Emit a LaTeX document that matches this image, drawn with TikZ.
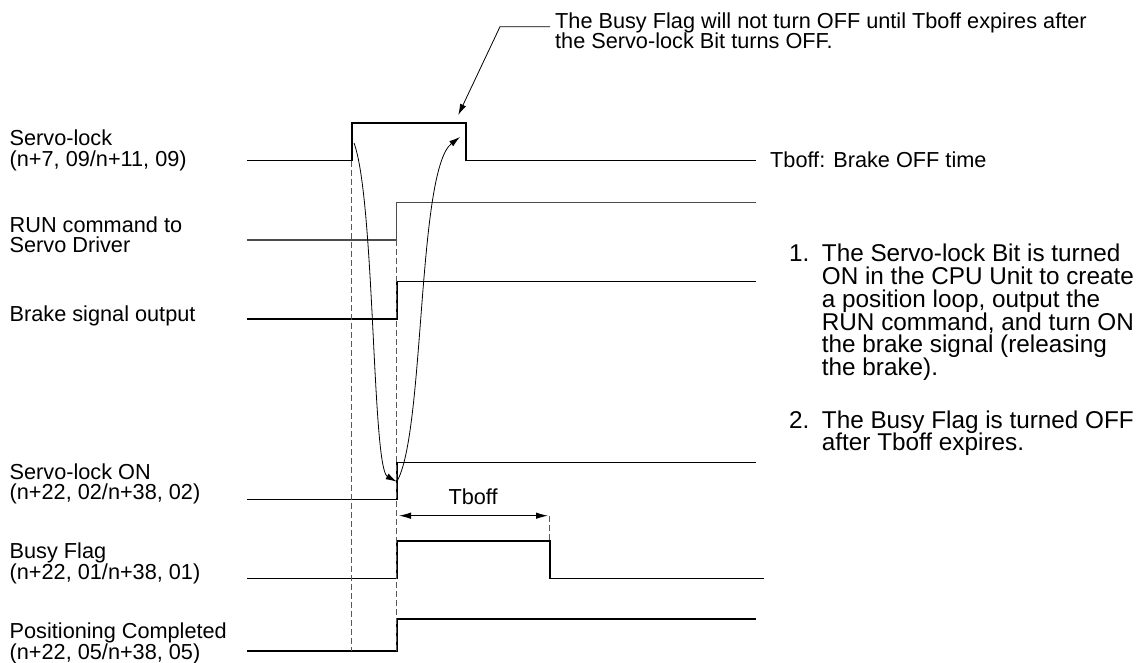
\documentclass[tikz,border=0pt]{standalone}
\usepackage{fontspec}
\setmainfont{Liberation Sans}
\usetikzlibrary{arrows.meta}
\begin{document}
\begin{tikzpicture}[x=1pt,y=-1pt,
  sig/.style={line width=1.6pt, line join=miter},
  sigg/.style={sig, black!70, line width=1.4pt},
  guide/.style={black!65, line width=0.9pt, dash pattern=on 6pt off 3pt},
  lbl/.style={anchor=base west, inner sep=0pt, font=\fontsize{21.7}{20.5}\selectfont},
  lst/.style={anchor=base west, inner sep=0pt, font=\fontsize{24.3}{22.7}\selectfont},
  tip/.style={-{Latex[length=11pt,width=6.5pt]}},
  curv/.style={line width=0.8pt, tip},
]
\useasboundingbox (0,0) rectangle (1136,663);

% signals
\draw[sig] (247,160.7) -- (351.7,160.7) -- (351.7,123.3) -- (465.7,123.3) -- (465.7,160.7) -- (756,160.7);
\draw[sigg] (247,240) -- (396.7,240) -- (396.7,202.7) -- (756,202.7);
\draw[sig] (247,319) -- (396.7,319) -- (396.7,281.7) -- (756,281.7);
\draw[sig] (247,499.3) -- (396.7,499.3) -- (396.7,462.3) -- (756,462.3);
\draw[sig] (247,578.3) -- (396.7,578.3) -- (396.7,540.7) -- (549.7,540.7) -- (549.7,578.3) -- (764,578.3);
\draw[sig] (247,650.7) -- (396.7,650.7) -- (396.7,618.7) -- (756,618.7);

% guide lines
\draw[guide] (351.7,160.7) -- (351.7,650.7);
\draw[guide] (396.7,240) -- (396.7,650.7);
\draw[guide] (549.7,515.7) -- (549.7,540.7);

% Tboff dimension
\coordinate (d0) at (399,515.7);
\coordinate (d1) at (548,515.7);
\draw[line width=1pt, {Latex[length=12pt,width=6.5pt]}-{Latex[length=12pt,width=6.5pt]}] (d0) -- (d1);
\node[lbl] (tboff) at (448.3,504) {Tboff};

% curved arrows
\coordinate (s1) at (354,143);
\coordinate (on) at (396.7,481.7);
\coordinate (e2) at (460,137);
\draw[curv] (s1) .. controls (375,200) and (372,468) .. (on);
\draw[curv] (on) .. controls (425,435) and (417,170) .. (e2);

% annotation
\node[lbl] (note1) at (555,28.3) {The Busy Flag will not turn OFF until Tboff expires after};
\node[lbl] (note2) at (555,48.3) {the Servo-lock Bit turns OFF.};
\coordinate (a0) at (550,26.7);
\coordinate (a1) at (500,26.7);
\coordinate (a2) at (458.3,115);
\draw[line width=0.8pt, tip] (a0) -- (a1) -- (a2);

% left labels
\node[lbl] (l1a) at (9.5,146) {Servo-lock};
\node[lbl] (l1b) at (9.5,166.7) {(n+7, 09/n+11, 09)};
\node[lbl] (l2a) at (9.5,232.3) {RUN command to};
\node[lbl] (l2b) at (9.5,252.7) {Servo Driver};
\node[lbl] (l3) at (9.5,321.7) {Brake signal output};
\node[lbl] (l4a) at (9.5,479.3) {Servo-lock ON};
\node[lbl] (l4b) at (9.5,499.3) {(n+22, 02/n+38, 02)};
\node[lbl] (l5a) at (9.5,558.3) {Busy Flag};
\node[lbl] (l5b) at (9.5,579.3) {(n+22, 01/n+38, 01)};
\node[lbl] (l6a) at (9.5,638.3) {Positioning Completed};
\node[lbl] (l6b) at (9.5,659.3) {(n+22, 05/n+38, 05)};

% right texts
\node[lbl] (tbdef) at (770,168) {Tboff: Brake OFF time};
\node[lst] (n1) at (789,262) {1.};
\node[lst] (t1a) at (821.7,262) {The Servo-lock Bit is turned};
\node[lst] (t1b) at (821.7,284.7) {ON in the CPU Unit to create};
\node[lst] (t1c) at (821.7,307.4) {a position loop, output the};
\node[lst] (t1d) at (821.7,330.1) {RUN command, and turn ON};
\node[lst] (t1e) at (821.7,352.8) {the brake signal (releasing};
\node[lst] (t1f) at (821.7,375.5) {the brake).};
\node[lst] (n2) at (789,428) {2.};
\node[lst] (t2a) at (821.7,428) {The Busy Flag is turned OFF};
\node[lst] (t2b) at (821.7,450.7) {after Tboff expires.};
\end{tikzpicture}
\end{document}
